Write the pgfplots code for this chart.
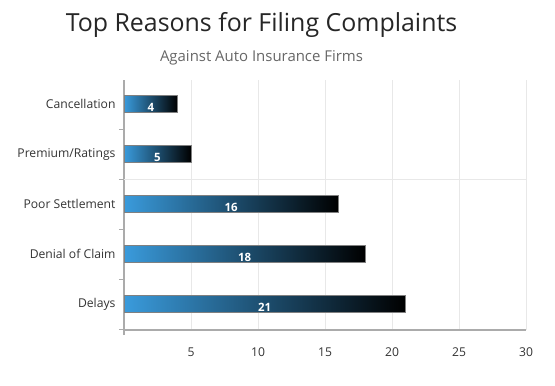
\documentclass[border=0pt]{standalone}
\usepackage{pgfplots}
\pgfplotsset{compat=1.18}
\usepackage{pgfplotstable}
\usepackage{fontspec}
\setmainfont{Open Sans}
\definecolor{axgray}{HTML}{ABABAB}
\definecolor{gridgray}{HTML}{E8E8E8}
\definecolor{barblue}{HTML}{3A9BDC}
\definecolor{txt}{HTML}{333333}
\definecolor{subtxt}{HTML}{666666}
\pgfplotstableread{
y v
0 21
1 18
2 16
3 5
4 4
}\datatab
\tikzset{mybar/.style={xbar, bar width=17bp, bar shift=0pt, draw=gray, line width=0.6pt, left color=barblue, right color=black}}
\begin{document}
\begin{tikzpicture}[x=1bp,y=1bp]
\useasboundingbox (-124,-55) rectangle (431,330);
\begin{axis}[
  at={(0,0)}, anchor=south west,
  scale only axis, width=402bp, height=250bp,
  xmin=0, xmax=30, ymin=-0.52, ymax=4.48,
  /pgf/number format/assume math mode=true,
  axis line style={draw=axgray, line width=1.2pt},
  axis x line*=bottom, axis y line*=left,
  xtick={5,10,15,20,25,30},
  xmajorgrids, major grid style={draw=gridgray, line width=1pt},
  ytick={0,1,2,3,4},
  yticklabels={Delays,Denial of Claim,Poor Settlement,Premium/Ratings,Cancellation},
  minor ytick={-0.5,0.5,1.5,2.5,3.5,4.5},
  major tick length=0pt,
  minor tick length=5bp,
  minor tick style={draw=axgray, line width=0.8pt},
  tick align=outside,
  extra y ticks={2.5}, extra y tick labels={},
  extra y tick style={ymajorgrids, major grid style={draw=gridgray,line width=1pt}, major tick length=0pt},
  extra x ticks={0}, extra x tick labels={},
  extra x tick style={xmajorgrids=false, major tick length=5bp, major tick style={draw=axgray, line width=1.2pt}},
  ticklabel style={font=\fontsize{12.2}{14}\selectfont, text=txt},
  xticklabel style={yshift=-14bp},
  yticklabel style={xshift=-5bp},
  clip=false,
]
\addplot[mybar] coordinates {(21,0)};
\addplot[mybar] coordinates {(18,1)};
\addplot[mybar] coordinates {(16,2)};
\addplot[mybar] coordinates {(5,3)};
\addplot[mybar] coordinates {(4,4)};
\addplot[only marks, mark=none, draw=none, point meta=explicit,
  nodes near coords, nodes near coords align={center},
  every node near coord/.append style={font=\bfseries\fontsize{11.5}{13}\selectfont, text=white, yshift=-3.5bp}]
  table[x expr=\thisrow{v}/2, y=y, meta=v] {\datatab};
\end{axis}
\node[font=\fontsize{25}{30}\selectfont, text=black!85] at (137.5,305) {Top Reasons for Filing Complaints};
\node[font=\fontsize{15}{18}\selectfont, text=subtxt] at (137.5,272) {Against Auto Insurance Firms};
\end{tikzpicture}
\end{document}
